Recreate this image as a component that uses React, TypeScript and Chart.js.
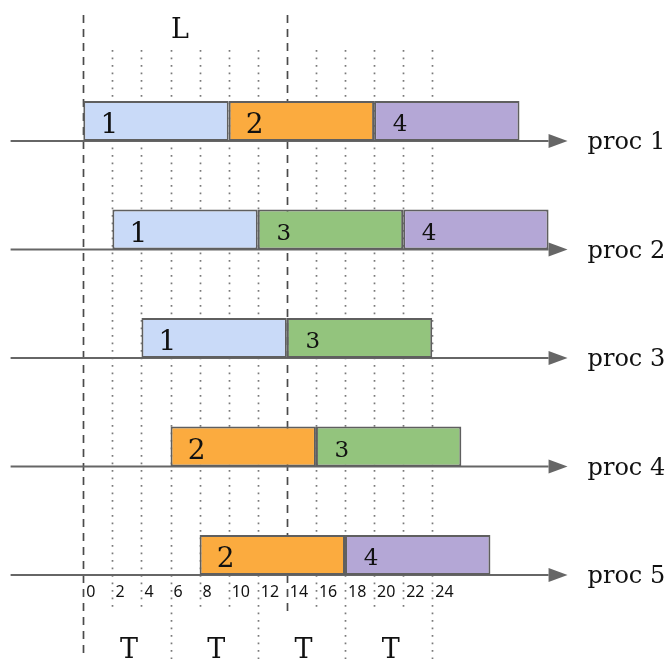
import React, { useEffect, useRef } from "react";
import { Chart, registerables } from "chart.js";

Chart.register(...registerables);

// ---- data ----
const procLabels = ["proc 1", "proc 2", "proc 3", "proc 4", "proc 5"];
const startTimes = [0, 2, 4, 6, 8];
const taskDuration = 10;
const taskSequences = [
  [1, 2, 4],
  [1, 3, 4],
  [1, 3],
  [2, 3],
  [2, 4],
];
const tickValues = [0, 2, 4, 6, 8, 10, 12, 14, 16, 18, 20, 22, 24];
const periodBounds = [0, 6, 12, 18, 24];
const periodLabel = "T";
const latencyRange = [0, 14];
const latencyLabel = "L";

// ---- styles ----
const taskColors: Record<number, string> = {
  1: "#c9daf8",
  2: "#fbab3f",
  3: "#93c47d",
  4: "#b4a7d6",
};
const taskFontSize: Record<number, number> = { 1: 28, 2: 28, 3: 23, 4: 23 };
const SERIF = "'DejaVu Serif', serif";
const SANS = "'Noto Sans', 'Open Sans', sans-serif";
const BAR_H = 40;

const maxSeg = Math.max(...taskSequences.map((s) => s.length));

const datasets = Array.from({ length: maxSeg }, (_, k) => ({
  label: `segment ${k + 1}`,
  data: taskSequences.map((seq, i) =>
    k < seq.length
      ? [startTimes[i] + k * taskDuration, startTimes[i] + (k + 1) * taskDuration]
      : null
  ),
  backgroundColor: taskSequences.map((seq) =>
    seq[k] !== undefined ? taskColors[seq[k]] : "transparent"
  ),
  borderColor: "#5f5f5f",
  borderWidth: 2,
  borderSkipped: false as const,
  grouped: false,
  maxBarThickness: BAR_H,
}));

const decorPlugin = {
  id: "decor",
  beforeDatasetsDraw(chart: any) {
    const { ctx } = chart;
    const xs = chart.scales.x;
    const ys = chart.scales.y;
    const H = chart.height;
    ctx.save();
    // vertical lines
    tickValues.forEach((v) => {
      const px = Math.round(xs.getPixelForValue(v)) + 0.5;
      const isLat = latencyRange.includes(v);
      const isPeriod = periodBounds.includes(v);
      const bottom = isPeriod ? H : 612;
      ctx.beginPath();
      if (isLat) {
        ctx.setLineDash([8, 6]);
        ctx.strokeStyle = "#4a4a4a";
        ctx.lineWidth = 1.7;
        ctx.moveTo(px, 15);
      } else {
        ctx.setLineDash([1.7, 5.8]);
        ctx.strokeStyle = "#7a7a7a";
        ctx.lineWidth = 1.7;
        ctx.moveTo(px, 50);
      }
      ctx.lineTo(px, bottom);
      ctx.stroke();
    });
    ctx.setLineDash([]);
    // process axes with arrows
    procLabels.forEach((_, i) => {
      const ay = ys.getPixelForValue(i) + BAR_H / 2;
      const x0 = xs.getPixelForValue(-5);
      const x1 = xs.getPixelForValue(32);
      ctx.strokeStyle = "#666666";
      ctx.lineWidth = 2;
      ctx.beginPath();
      ctx.moveTo(x0, ay);
      ctx.lineTo(x1, ay);
      ctx.stroke();
      ctx.fillStyle = "#666666";
      ctx.beginPath();
      ctx.moveTo(x1, ay - 7);
      ctx.lineTo(x1 + 19, ay);
      ctx.lineTo(x1, ay + 7);
      ctx.closePath();
      ctx.fill();
    });
    ctx.restore();
  },
  afterDatasetsDraw(chart: any) {
    const { ctx } = chart;
    const xs = chart.scales.x;
    const ys = chart.scales.y;
    ctx.save();
    ctx.fillStyle = "#111111";
    // bar labels
    taskSequences.forEach((seq, i) => {
      const ay = ys.getPixelForValue(i) + BAR_H / 2;
      seq.forEach((task, k) => {
        const left = xs.getPixelForValue(startTimes[i] + k * taskDuration);
        const fs = taskFontSize[task];
        ctx.font = `${fs}px ${SERIF}`;
        ctx.textAlign = "center";
        ctx.textBaseline = "alphabetic";
        ctx.fillText(String(task), left + 26, ay - (fs > 24 ? 8 : 10));
      });
      // proc labels
      ctx.font = `24px ${SERIF}`;
      ctx.textAlign = "left";
      ctx.fillText(procLabels[i], xs.getPixelForValue(32) + 39, ay + 8);
    });
    // tick labels
    const lastAxis = ys.getPixelForValue(procLabels.length - 1) + BAR_H / 2;
    ctx.font = `16px ${SANS}`;
    ctx.textAlign = "left";
    ctx.textBaseline = "middle";
    tickValues.forEach((v) => {
      ctx.fillText(String(v), xs.getPixelForValue(v) + 3, lastAxis + 17);
    });
    // L label
    ctx.font = `27px ${SERIF}`;
    ctx.textAlign = "center";
    ctx.textBaseline = "alphabetic";
    const lMid = xs.getPixelForValue((latencyRange[0] + latencyRange[1]) / 2);
    ctx.fillText(latencyLabel, lMid - 5, 38);
    // T labels
    for (let p = 0; p < periodBounds.length - 1; p++) {
      const mid = xs.getPixelForValue((periodBounds[p] + periodBounds[p + 1]) / 2);
      ctx.fillText(periodLabel, mid + 2, 658);
    }
    ctx.restore();
  },
};

export default function App() {
  const canvasRef = useRef<HTMLCanvasElement | null>(null);

  useEffect(() => {
    document.body.style.margin = "0";
    const canvas = canvasRef.current;
    if (!canvas) return;
    const chart = new Chart(canvas, {
      type: "bar",
      data: { labels: procLabels, datasets: datasets as any },
      options: {
        indexAxis: "y",
        animation: false,
        responsive: false,
        devicePixelRatio: 1,
        layout: { padding: { top: 66.75, bottom: 49.75, left: 0, right: 0 } },
        scales: {
          x: { type: "linear", min: -5.729, max: 40.42, display: false, stacked: false },
          y: { type: "category", display: false, offset: true },
        },
        plugins: {
          legend: { display: false },
          tooltip: { enabled: false },
        },
      },
      plugins: [decorPlugin],
    });
    return () => chart.destroy();
  }, []);

  return (
    <div style={{ width: 671, height: 659, background: "#fff" }}>
      <canvas ref={canvasRef} width={671} height={659} style={{ display: "block" }} />
    </div>
  );
}
